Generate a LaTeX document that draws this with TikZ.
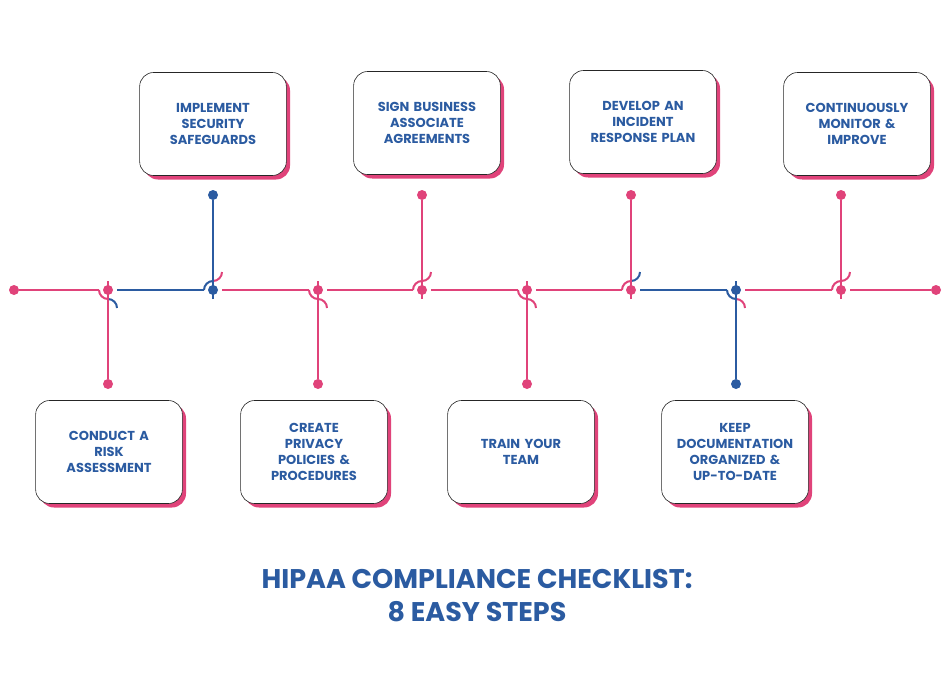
\documentclass[tikz,border=0pt]{standalone}
\usepackage{fontspec}
\setmainfont{Poppins}
\definecolor{hpink}{HTML}{E0437A}
\definecolor{hblue}{HTML}{2B5BA1}
\begin{document}
\begin{tikzpicture}[x=1pt,y=-1pt,
    stepbox/.style={draw=black!85,line width=0.6pt,fill=white,rounded corners=14pt,
      minimum width=146pt,minimum height=103pt,align=center,text width=140pt,
      font=\bfseries\fontsize{13}{16}\selectfont,text=hblue},
    shade/.style={fill=hpink,rounded corners=14pt,minimum width=146pt,minimum height=103pt},
    dot/.style={circle,inner sep=0pt,minimum size=10pt}]
    \useasboundingbox (0,0) rectangle (950,690);

    % main line
    \node[dot,fill=hpink] (s) at (14,290) {};
    \node[dot,fill=hpink] (e) at (936,290) {};
    \foreach \i/\x/\c in {1/108/hpink,2/213/hblue,3/318/hpink,4/422/hpink,5/527/hpink,6/631/hpink,7/736/hblue,8/841/hpink}
        \node[dot,fill=\c] (j\i) at (\x,290) {};

    % segments between junctions
    \draw[hpink,line width=2pt] (s) -- ([xshift=-9pt]j1.center);
    \foreach \a/\b/\c in {1/2/hblue,2/3/hpink,3/4/hpink,4/5/hpink,5/6/hpink,6/7/hblue,7/8/hpink}
        \draw[\c,line width=2pt] ([xshift=9pt]j\a.center) -- ([xshift=-9pt]j\b.center);
    \draw[hpink,line width=2pt] ([xshift=9pt]j8.center) -- (e);

    % junction arcs, down stems
    \foreach \i/\l/\r in {1/hpink/hblue,3/hpink/hpink,5/hpink/hpink,7/hblue/hpink}{
        \draw[\l,line width=2pt] ([xshift=-9pt]j\i.center) arc[start angle=180,end angle=270,radius=9pt];
        \draw[\r,line width=2pt] ([yshift=-9pt]j\i.center) arc[start angle=90,end angle=0,radius=9pt];
    }
    % junction arcs, up stems
    \foreach \i/\l/\r in {2/hblue/hpink,4/hpink/hpink,6/hpink/hblue,8/hpink/hpink}{
        \draw[\l,line width=2pt] ([xshift=-9pt]j\i.center) arc[start angle=180,end angle=90,radius=9pt];
        \draw[\r,line width=2pt] ([yshift=9pt]j\i.center) arc[start angle=270,end angle=360,radius=9pt];
    }

    % stems and end dots
    \foreach \i/\y/\c in {1/384/hpink,2/195/hblue,3/384/hpink,4/195/hpink,5/384/hpink,6/195/hpink,7/384/hblue,8/195/hpink}{
        \node[dot,fill=\c] (t\i) at (j\i |- 0,\y) {};
    }
    \foreach \i/\c in {1/hpink,3/hpink,5/hpink,7/hblue}
        \draw[\c,line width=2pt] ([yshift=9pt]j\i.center) -- (t\i);
    \foreach \i/\c in {2/hblue,4/hpink,6/hpink,8/hpink}
        \draw[\c,line width=2pt] ([yshift=-9pt]j\i.center) -- (t\i);

    % step boxes
    \foreach \n/\x/\y/\txt in {
        b1/109/452/{CONDUCT A\\RISK\\ASSESSMENT},
        b2/213/124/{IMPLEMENT\\SECURITY\\SAFEGUARDS},
        b3/314/452/{CREATE\\PRIVACY\\POLICIES \&\\PROCEDURES},
        b4/427/123/{SIGN BUSINESS\\ASSOCIATE\\AGREEMENTS},
        b5/521/452/{TRAIN YOUR\\TEAM},
        b6/643/122/{DEVELOP AN\\INCIDENT\\RESPONSE PLAN},
        b7/735/452/{KEEP\\DOCUMENTATION\\ORGANIZED \&\\UP-TO-DATE},
        b8/857/124/{CONTINUOUSLY\\MONITOR \&\\IMPROVE}}{
        \node[shade] at (\x+4,\y+4) {};
        \node[stepbox] (\n) at (\x,\y) {\txt};
    }

    % title
    \node[font=\bfseries\fontsize{27}{33}\selectfont,text=hblue,align=center] (title) at (477,596)
        {HIPAA COMPLIANCE CHECKLIST:\\8 EASY STEPS};
\end{tikzpicture}
\end{document}
